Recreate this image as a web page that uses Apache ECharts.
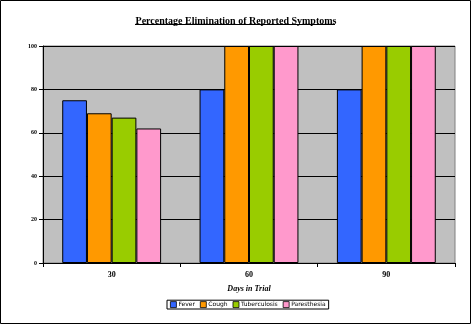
<!DOCTYPE html>
<html><head><meta charset="utf-8">
<script src="https://cdn.jsdelivr.net/npm/echarts@6/dist/echarts.min.js"></script>
<style>html,body{margin:0;padding:0;background:#fff}#c{width:472px;height:325px}</style>
</head><body><div id="c"></div>
<script>
const categories = ['30', '60', '90'];
const seriesNames = ['Fever', 'Cough', 'Tuberculosis', 'Paresthesia'];
const fever = [75, 80, 80];
const cough = [69, 100, 100];
const tuberculosis = [67, 100, 100];
const paresthesia = [62, 100, 100];
const yTicks = [0, 20, 40, 60, 80, 100];
const colors = ['#3366FF', '#FF9900', '#99CC00', '#FF99CC'];
const values = [fever, cough, tuberculosis, paresthesia];

const chart = echarts.init(document.getElementById('c'), null, {renderer: 'canvas'});
const serif = 'Liberation Serif';
chart.setOption({
  animation: false,
  backgroundColor: '#fff',
  title: {
    text: 'Percentage Elimination of Reported Symptoms',
    left: 'center', top: 11,
    textStyle: {fontFamily: serif, fontWeight: 'bold', fontSize: 10, color: '#000'}
  },
  graphic: [
    {type: 'rect', shape: {x: 0.5, y: 0.5, width: 470, height: 323}, style: {fill: 'none', stroke: '#000', lineWidth: 1}, silent: true},
    {type: 'line', shape: {x1: 135, y1: 24.5, x2: 335, y2: 24.5}, style: {stroke: '#000', lineWidth: 1}, silent: true}
  ],
  legend: {
    data: seriesNames,
    bottom: 16, left: 167,
    itemWidth: 6, itemHeight: 6, itemGap: 5,
    padding: [1, 3, 1, 3],
    borderColor: '#000', borderWidth: 1,
    icon: 'rect',
    itemStyle: {borderColor: '#000', borderWidth: 0.8},
    textStyle: {fontFamily: 'DejaVu Sans', fontSize: 6, color: '#000', padding: [0, 0, 0, -3]}
  },
  grid: {left: 43, right: 17, top: 46, bottom: 62, show: true, backgroundColor: '#C0C0C0', borderColor: '#808080', borderWidth: 1},
  xAxis: {
    type: 'category', data: categories,
    name: 'Days in Trial', nameLocation: 'middle', nameGap: 22,
    nameTextStyle: {fontFamily: serif, fontStyle: 'italic', fontWeight: 'bold', fontSize: 8, color: '#000'},
    axisLine: {lineStyle: {color: '#000', width: 1}},
    axisTick: {show: true, length: 4, lineStyle: {color: '#000'}},
    axisLabel: {fontFamily: serif, fontWeight: 'bold', fontSize: 8, color: '#000', margin: 8}
  },
  yAxis: {
    type: 'value', min: yTicks[0], max: yTicks[yTicks.length - 1], interval: 20,
    axisLine: {show: true, lineStyle: {color: '#000', width: 1}},
    axisTick: {show: true, length: 4, lineStyle: {color: '#000'}},
    axisLabel: {fontFamily: serif, fontWeight: 'bold', fontSize: 6, color: '#000', margin: 6},
    splitLine: {show: true, lineStyle: {color: '#000', width: 1}}
  },
  series: seriesNames.map((n, i) => ({
    name: n, type: 'bar', data: values[i],
    barGap: '0%', barCategoryGap: '28%',
    itemStyle: {color: colors[i], borderColor: '#000', borderWidth: 1}
  }))
});
</script></body></html>
